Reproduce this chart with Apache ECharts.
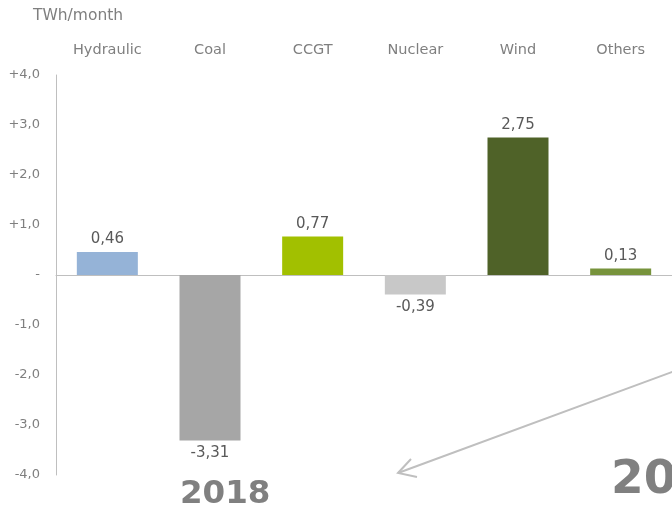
<!DOCTYPE html>
<html>
<head>
<meta charset="utf-8">
<script src="https://cdn.jsdelivr.net/npm/echarts@6/dist/echarts.min.js"></script>
<style>
html,body{margin:0;padding:0;background:#fff;}
#main{width:672px;height:507px;}
</style>
</head>
<body>
<div id="main"></div>
<script>
var categories = ['Hydraulic', 'Coal', 'CCGT', 'Nuclear', 'Wind', 'Others'];
var values = [0.46, -3.31, 0.77, -0.39, 2.75, 0.13];
var barColors = ['#95b3d7', '#a6a6a6', '#a2c000', '#c8c8c8', '#4f6228', '#77933c'];
var yTickLabels = { '4': '+4,0', '3': '+3,0', '2': '+2,0', '1': '+1,0', '0': '-', '-1': '-1,0', '-2': '-2,0', '-3': '-3,0', '-4': '-4,0' };
var unitLabel = 'TWh/month';
var yearLabel = '2018';
var yearLabelNext = '20';

var FONT = 'DejaVu Sans';
var chart = echarts.init(document.getElementById('main'), null, { renderer: 'canvas' });

var seriesData = values.map(function (v, i) {
  return {
    value: v,
    itemStyle: { color: barColors[i] },
    label: { position: v >= 0 ? 'top' : 'bottom' }
  };
});

chart.setOption({
  animation: false,
  backgroundColor: '#ffffff',
  grid: { left: 56, right: -2, top: 75, bottom: 32, containLabel: false },
  xAxis: [
    {
      type: 'category',
      data: categories,
      position: 'top',
      axisLine: { show: false, onZero: false },
      axisTick: { show: false },
      axisLabel: { color: '#7f7f7f', fontFamily: FONT, fontSize: 14.5, margin: 17 },
      splitLine: { show: false }
    },
    {
      type: 'category',
      data: categories,
      position: 'bottom',
      axisLine: { show: true, onZero: true, lineStyle: { color: '#bfbfbf', width: 1 } },
      axisTick: { show: false },
      axisLabel: { show: false },
      splitLine: { show: false }
    }
  ],
  yAxis: {
    type: 'value',
    min: -4,
    max: 4,
    interval: 1,
    axisLine: { show: true, lineStyle: { color: '#bfbfbf', width: 1 } },
    axisTick: { show: false },
    splitLine: { show: false },
    axisLabel: {
      color: '#7f7f7f',
      fontFamily: FONT,
      fontSize: 13,
      margin: 16,
      formatter: function (v) { return yTickLabels[String(v)]; }
    }
  },
  series: [{
    type: 'bar',
    xAxisIndex: 0,
    data: seriesData,
    barWidth: 61,
    label: {
      show: true,
      color: '#595959',
      fontFamily: FONT,
      fontSize: 15,
      distance: 5,
      formatter: function (p) { return p.value.toFixed(2).replace('.', ','); }
    }
  }],
  graphic: [
    {
      type: 'text', left: 33, top: 8,
      style: { text: unitLabel, fill: '#7f7f7f', font: '15.5px "DejaVu Sans"' }
    },
    {
      type: 'text', left: 180, top: 478,
      style: { text: yearLabel, fill: '#808080', font: 'bold 32.5px "DejaVu Sans"' }
    },
    {
      type: 'text', left: 611, top: 457,
      style: { text: yearLabelNext, fill: '#808080', font: 'bold 47px "DejaVu Sans"' }
    },
    {
      type: 'line',
      shape: { x1: 680, y1: 369, x2: 398, y2: 473 },
      style: { stroke: '#bfbfbf', lineWidth: 2 }
    },
    {
      type: 'polyline',
      shape: { points: [[411, 459], [398, 473], [417, 477]] },
      style: { stroke: '#bfbfbf', lineWidth: 2, fill: null }
    }
  ]
});
</script>
</body>
</html>
